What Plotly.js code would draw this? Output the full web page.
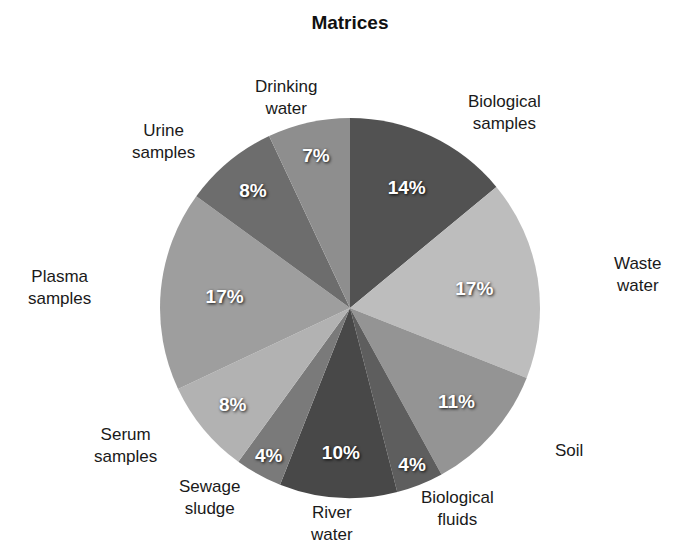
<!DOCTYPE html>
<html>
<head>
<meta charset="utf-8">
<script src="https://cdn.plot.ly/plotly-3.0.1.min.js"></script>
<style>html,body{margin:0;padding:0;background:#fff;}#chart{width:673px;height:544px;}</style>
</head>
<body>
<div id="chart"></div>
<script>
const categories = ["Biological samples","Waste water","Soil","Biological fluids","River water","Sewage sludge","Serum samples","Plasma samples","Urine samples","Drinking water"];
const labelText = ["Biological<br>samples","Waste<br>water","Soil","Biological<br>fluids","River<br>water","Sewage<br>sludge","Serum<br>samples","Plasma<br>samples","Urine<br>samples","Drinking<br>water"];
const values = [14, 17, 11, 4, 10, 4, 8, 17, 8, 7];
const colors = ["#525252","#bdbdbd","#949494","#5e5e5e","#484848","#7a7a7a","#b2b2b2","#9e9e9e","#6d6d6d","#8e8e8e"];

const W = 673, H = 544;
const cx = 350, cy = 308, R = 190;
const Rx = 292, Ry = 216;

const total = values.reduce((a, b) => a + b, 0);
const annotations = [];
let cum = 0;
values.forEach((v, i) => {
  const mid = (cum + v / 2) / total * 2 * Math.PI;
  cum += v;
  const s = Math.sin(mid);
  const px = cx + Rx * s + (s > 0.3 && Math.cos(mid) > 0.5 ? 30 : 0);
  const py = cy - Ry * Math.cos(mid);
  annotations.push({
    x: px / W, y: 1 - py / H, xref: 'paper', yref: 'paper',
    text: labelText[i], showarrow: false, xanchor: 'center', yanchor: 'middle',
    font: {family: 'Liberation Sans, Arial, sans-serif', size: 17, color: '#1a1a1a'}
  });
});

const trace = {
  type: 'pie',
  labels: categories,
  values: values,
  sort: false,
  direction: 'clockwise',
  rotation: 0,
  marker: {colors: colors, line: {width: 0}},
  texttemplate: '%{value}%',
  textposition: 'inside',
  insidetextorientation: 'horizontal',
  textfont: {family: 'Liberation Sans, Arial, sans-serif', size: 19, color: '#ffffff', weight: 'bold', shadow: '1px 1px 3px rgba(0,0,0,0.9)'},
  hoverinfo: 'label+percent',
  domain: {x: [(cx - R) / W, (cx + R) / W], y: [(H - cy - R) / H, (H - cy + R) / H]},
  showlegend: false
};

const layout = {
  width: W, height: H,
  margin: {l: 0, r: 0, t: 0, b: 0},
  paper_bgcolor: '#ffffff',
  title: {text: '<b>Matrices</b>', x: 0.52, xanchor: 'center', y: 1 - 22 / H, yanchor: 'middle',
    font: {family: 'Liberation Sans, Arial, sans-serif', size: 19, color: '#111'}},
  annotations: annotations,
  showlegend: false
};

Plotly.newPlot('chart', [trace], layout, {displayModeBar: false, staticPlot: true});
</script>
</body>
</html>
